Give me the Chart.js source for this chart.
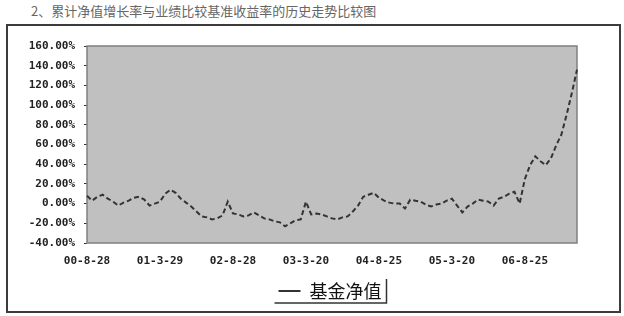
<!DOCTYPE html>
<html>
<head>
<meta charset="utf-8">
<script src="https://cdn.jsdelivr.net/npm/chart.js@4.4.1/dist/chart.umd.min.js"></script>
<style>
  body { margin: 0; background: #fff; width: 624px; height: 316px; overflow: hidden; position: relative; }
  #title {
    position: absolute; left: 31px; top: 1px;
    font: 13px "Noto Sans CJK SC", sans-serif; color: #666; white-space: nowrap;
  }
  #frame {
    position: absolute; left: 6px; top: 24px; width: 611px; height: 285px;
    border: 2px solid #3c3c3c;
  }
  #wrap { position: absolute; left: 9px; top: 27px; width: 608px; height: 283px; }
</style>
</head>
<body>
<div id="title">2、累计净值增长率与业绩比较基准收益率的历史走势比较图</div>
<div id="frame"></div>
<div id="wrap"><canvas id="chart"></canvas></div>
<script>
// x-axis tick labels (every 14th point), the rest stay blank
const dateLabels = ['00-8-28', '01-3-29', '02-8-28', '03-3-20', '04-8-25', '05-3-20', '06-8-25'];
const labelEvery = 14;

// cumulative NAV growth, %
const navGrowth = [
    8, 3, 7, 9, 5, 2, -2, 1, 3, 6,
    7, 4, -2, 0, 2, 10, 14, 11, 5, 1,
    -3, -8, -13, -14, -16, -15, -12, 2, -10, -11,
    -13, -12, -9, -12, -15, -16, -18, -19, -23, -20,
    -17, -16, 2, -11, -10, -11, -13, -15, -16, -14,
    -13, -8, -2, 7, 9, 11, 6, 3, 1, 0,
    0, -5, 4, 3, 2, -1, -3, -1, 0, 3,
    5, -2, -9, -3, 0, 4, 3, 2, -2, 5,
    7, 10, 12, 0, 25, 39, 48, 43, 39, 46,
    59, 70, 90, 112, 136
];

const seriesName = '基金净值';

const labels = navGrowth.map((v, i) => (i % labelEvery === 0 ? dateLabels[i / labelEvery] : ''));

// grey plot background with a darker frame, legend nudged right with a half frame
const plotBox = {
    id: 'plotBox',
    afterLayout(chart) {
        const lg = chart.legend;
        if (lg) { lg.left += 37; lg.right += 37; }
    },
    beforeDatasetsDraw(chart) {
        const { ctx, chartArea: a } = chart;
        ctx.save();
        ctx.fillStyle = '#c0c0c0';
        ctx.fillRect(a.left, a.top, a.right - a.left, a.bottom - a.top);
        ctx.strokeStyle = '#808080';
        ctx.lineWidth = 1.5;
        ctx.strokeRect(a.left, a.top, a.right - a.left, a.bottom - a.top);
        ctx.restore();
    },
    afterDraw(chart) {
        const lg = chart.legend;
        if (!lg || !lg.legendHitBoxes.length) return;
        const hb = lg.legendHitBoxes[0];
        const { ctx } = chart;
        const r = hb.left + hb.width + 5, b = hb.top + hb.height + 3;
        ctx.save();
        ctx.strokeStyle = '#333';
        ctx.lineWidth = 1.5;
        ctx.beginPath();
        ctx.moveTo(hb.left - 4, b);
        ctx.lineTo(r, b);
        ctx.lineTo(r, hb.top - 3);
        ctx.stroke();
        ctx.restore();
    }
};

const tickFont = { family: '"DejaVu Sans Mono", monospace', size: 11, weight: 'bold' };

new Chart(document.getElementById('chart'), {
    type: 'line',
    data: {
        labels: labels,
        datasets: [{
            label: seriesName,
            data: navGrowth,
            borderColor: '#333',
            borderWidth: 2,
            borderDash: [5, 3],
            pointRadius: 0,
            tension: 0,
            fill: false
        }]
    },
    options: {
        responsive: true,
        maintainAspectRatio: false,
        animation: false,
        layout: { padding: { left: 0, right: 40, top: 19, bottom: 0 } },
        plugins: {
            tooltip: { enabled: false },
            legend: {
                position: 'bottom',
                labels: {
                    usePointStyle: true,
                    pointStyle: 'line',
                    pointStyleWidth: 22,
                    color: '#111',
                    padding: 4,
                    font: { family: '"Noto Sans CJK SC", sans-serif', size: 18 }
                }
            }
        },
        scales: {
            x: {
                grid: { display: false },
                border: { display: false },
                ticks: {
                    autoSkip: false,
                    maxRotation: 0,
                    padding: 4,
                    color: '#222',
                    font: tickFont
                },
                afterFit(scale) { scale.height = 35; }
            },
            y: {
                min: -40,
                max: 160,
                grid: { drawOnChartArea: false, tickLength: 3, color: '#333' },
                border: { display: false },
                ticks: {
                    stepSize: 20,
                    padding: 9,
                    color: '#222',
                    font: tickFont,
                    callback: v => v.toFixed(2) + '%'
                },
                afterFit(scale) { scale.width = 78; }
            }
        }
    },
    plugins: [plotBox]
});
</script>
</body>
</html>
